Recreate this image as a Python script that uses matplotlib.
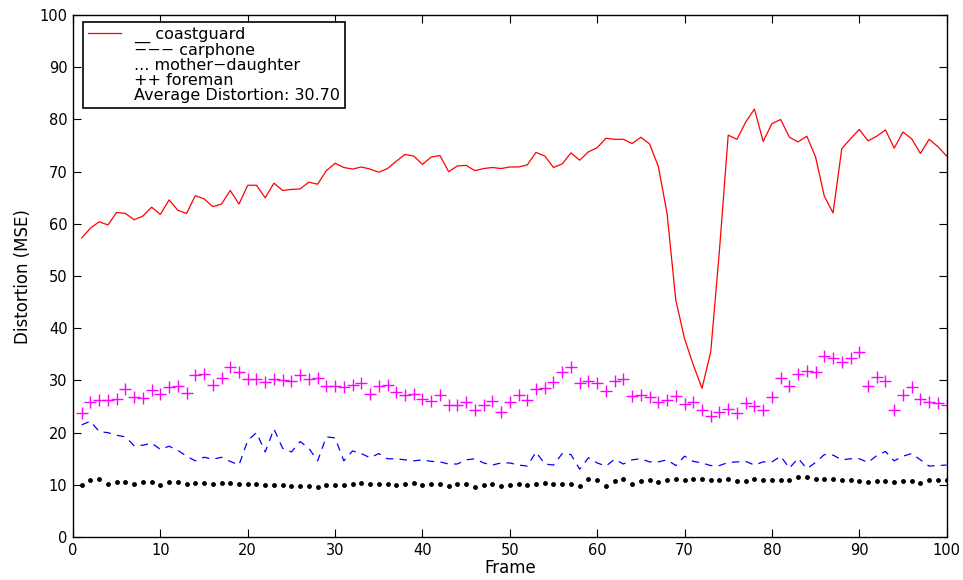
import numpy as np
import matplotlib.pyplot as plt
from matplotlib.lines import Line2D

frames = np.arange(1, 101)

# coastguard (linha vermelha)
coastguard = [57.3, 59.2, 60.4, 59.8, 62.2, 62.0, 60.8, 61.5, 63.2, 61.8,
              64.6, 62.6, 62.0, 65.4, 64.8, 63.3, 63.8, 66.4, 63.8, 67.4,
              67.4, 65.0, 67.8, 66.4, 66.6, 66.7, 68.0, 67.6, 70.2, 71.6,
              70.8, 70.5, 70.9, 70.5, 69.9, 70.6, 72.0, 73.3, 73.0, 71.4,
              72.8, 73.1, 70.0, 71.1, 71.2, 70.2, 70.6, 70.8, 70.6, 70.9,
              70.9, 71.3, 73.7, 73.0, 70.8, 71.5, 73.6, 72.2, 73.8, 74.6,
              76.4, 76.2, 76.2, 75.4, 76.6, 75.3, 71.0, 62.0, 45.4, 38.0,
              33.0, 28.5, 35.5, 55.0, 77.0, 76.2, 79.5, 82.0, 75.8, 79.2,
              80.0, 76.6, 75.7, 76.8, 72.8, 65.3, 62.1, 74.4, 76.3, 78.1,
              75.9, 76.8, 78.0, 74.5, 77.6, 76.3, 73.5, 76.2, 74.8, 73.0]

# carphone (tracejado azul)
carphone = [21.5, 22.2, 20.2, 20.0, 19.5, 19.2, 17.5, 17.6, 18.0, 16.8,
            17.4, 16.6, 15.5, 14.6, 15.3, 14.9, 15.3, 14.5, 13.8, 18.5,
            20.0, 16.3, 20.7, 17.0, 16.3, 18.3, 17.0, 14.6, 19.2, 19.0,
            14.6, 16.5, 16.0, 15.2, 16.0, 15.0, 15.0, 14.8, 14.6, 14.8,
            14.5, 14.4, 14.0, 14.0, 14.8, 15.0, 14.2, 13.8, 14.2, 14.2,
            13.8, 13.6, 16.3, 14.0, 13.8, 16.0, 15.8, 13.0, 15.2, 14.2,
            13.6, 14.9, 14.0, 14.8, 15.0, 14.4, 14.4, 14.8, 13.7, 15.5,
            14.5, 14.2, 13.7, 13.7, 14.3, 14.4, 14.5, 13.8, 14.4, 14.4,
            15.5, 13.2, 15.1, 13.1, 14.3, 15.8, 15.7, 14.8, 15.0, 15.0,
            14.3, 15.6, 16.4, 14.6, 15.5, 16.0, 14.8, 13.6, 13.7, 13.8]

# mother-daughter (pontos pretos)
mother_daughter = [9.9, 10.9, 11.05, 10.15, 10.6, 10.6, 10.15, 10.6, 10.6, 10.0,
                   10.6, 10.6, 10.1, 10.4, 10.4, 10.1, 10.3, 10.3, 10.1, 10.25,
                   10.2, 10.05, 10.05, 10.05, 9.7, 9.7, 9.7, 9.6, 9.9, 9.9,
                   9.9, 10.25, 10.4, 10.1, 10.2, 10.25, 10.05, 10.25, 10.3, 9.95,
                   10.15, 10.15, 9.85, 10.1, 10.15, 9.6, 10.05, 10.1, 9.75, 9.95,
                   10.1, 9.95, 10.1, 10.3, 10.15, 10.2, 10.2, 9.85, 11.1, 10.9,
                   9.85, 10.75, 11.05, 10.1, 10.7, 10.9, 10.6, 11.0, 11.1, 11.0,
                   11.1, 11.1, 11.0, 11.0, 11.1, 10.8, 10.8, 11.1, 10.9, 10.9,
                   10.9, 11.0, 11.5, 11.55, 11.1, 11.15, 11.15, 11.0, 10.9, 10.75,
                   10.6, 10.8, 10.8, 10.5, 10.75, 10.75, 10.4, 10.9, 11.0, 10.9]

# foreman (cruzes magenta)
foreman = [23.8, 25.9, 26.3, 26.3, 26.4, 28.3, 26.8, 26.6, 28.1, 27.4,
           28.8, 29.0, 27.6, 31.0, 31.2, 29.2, 30.4, 32.6, 31.7, 30.2,
           30.3, 29.8, 30.3, 30.0, 29.9, 31.0, 30.3, 30.4, 28.9, 28.9,
           28.8, 29.2, 29.5, 27.5, 28.9, 29.2, 27.7, 27.2, 27.5, 26.5,
           26.1, 27.2, 25.3, 25.3, 25.8, 24.3, 25.3, 26.1, 24.0, 25.9,
           27.2, 26.2, 28.3, 28.6, 29.7, 31.7, 32.6, 29.6, 29.9, 29.6,
           27.9, 29.9, 30.3, 27.0, 27.2, 26.8, 25.8, 26.2, 27.0, 25.4,
           25.8, 24.4, 23.2, 24.0, 24.5, 23.8, 25.7, 25.2, 24.4, 26.9,
           30.4, 28.9, 31.3, 31.8, 31.7, 34.6, 34.3, 33.5, 34.3, 35.4,
           28.9, 30.7, 29.9, 24.3, 27.2, 28.8, 26.5, 25.8, 25.6, 25.3]

legend_labels = ['__ coastguard', '\u2212\u2212\u2212 carphone', '... mother\u2212daughter',
                 '++ foreman', 'Average Distortion: 30.70']

plt.rcParams['font.family'] = ['DejaVu Sans']

fig = plt.figure(figsize=(9.63, 5.8), dpi=100)
ax = fig.add_axes([0.0758, 0.074, 0.9072, 0.9])

ax.plot(frames, coastguard, color='#ff0000', linewidth=0.9)
ax.plot(frames, carphone, color='#0000ff', linewidth=0.9, dashes=(6, 5))
ax.plot(frames, mother_daughter, linestyle='none', marker='.', color='black', markersize=5)
ax.plot(frames, foreman, linestyle='none', marker='+', color='#ff00ff',
        markersize=8.5, markeredgewidth=1.0)

ax.set_xlim(0, 100)
ax.set_ylim(0, 100)
ax.set_xticks(np.arange(0, 101, 10))
ax.set_yticks(np.arange(0, 101, 10))
ax.tick_params(direction='in', length=6, width=0.8, top=True, right=True,
               labelsize=10.5, pad=4)
for s in ax.spines.values():
    s.set_linewidth(1.0)
ax.set_xlabel('Frame', fontsize=12, labelpad=1)
ax.set_ylabel('Distortion (MSE)', fontsize=12, labelpad=5)

handles = [Line2D([], [], color='#ff0000', linewidth=0.9)] + \
          [Line2D([], [], color='none') for _ in range(4)]
leg = ax.legend(handles, legend_labels, loc='upper left', bbox_to_anchor=(0.0114, 0.9866),
                borderaxespad=0, fontsize=11.5, fancybox=False, framealpha=1,
                edgecolor='black', handlelength=2.1, handletextpad=0.8,
                labelspacing=0.0, borderpad=0.3)
leg.get_frame().set_linewidth(1.2)

fig.savefig('out.png', dpi=100)
